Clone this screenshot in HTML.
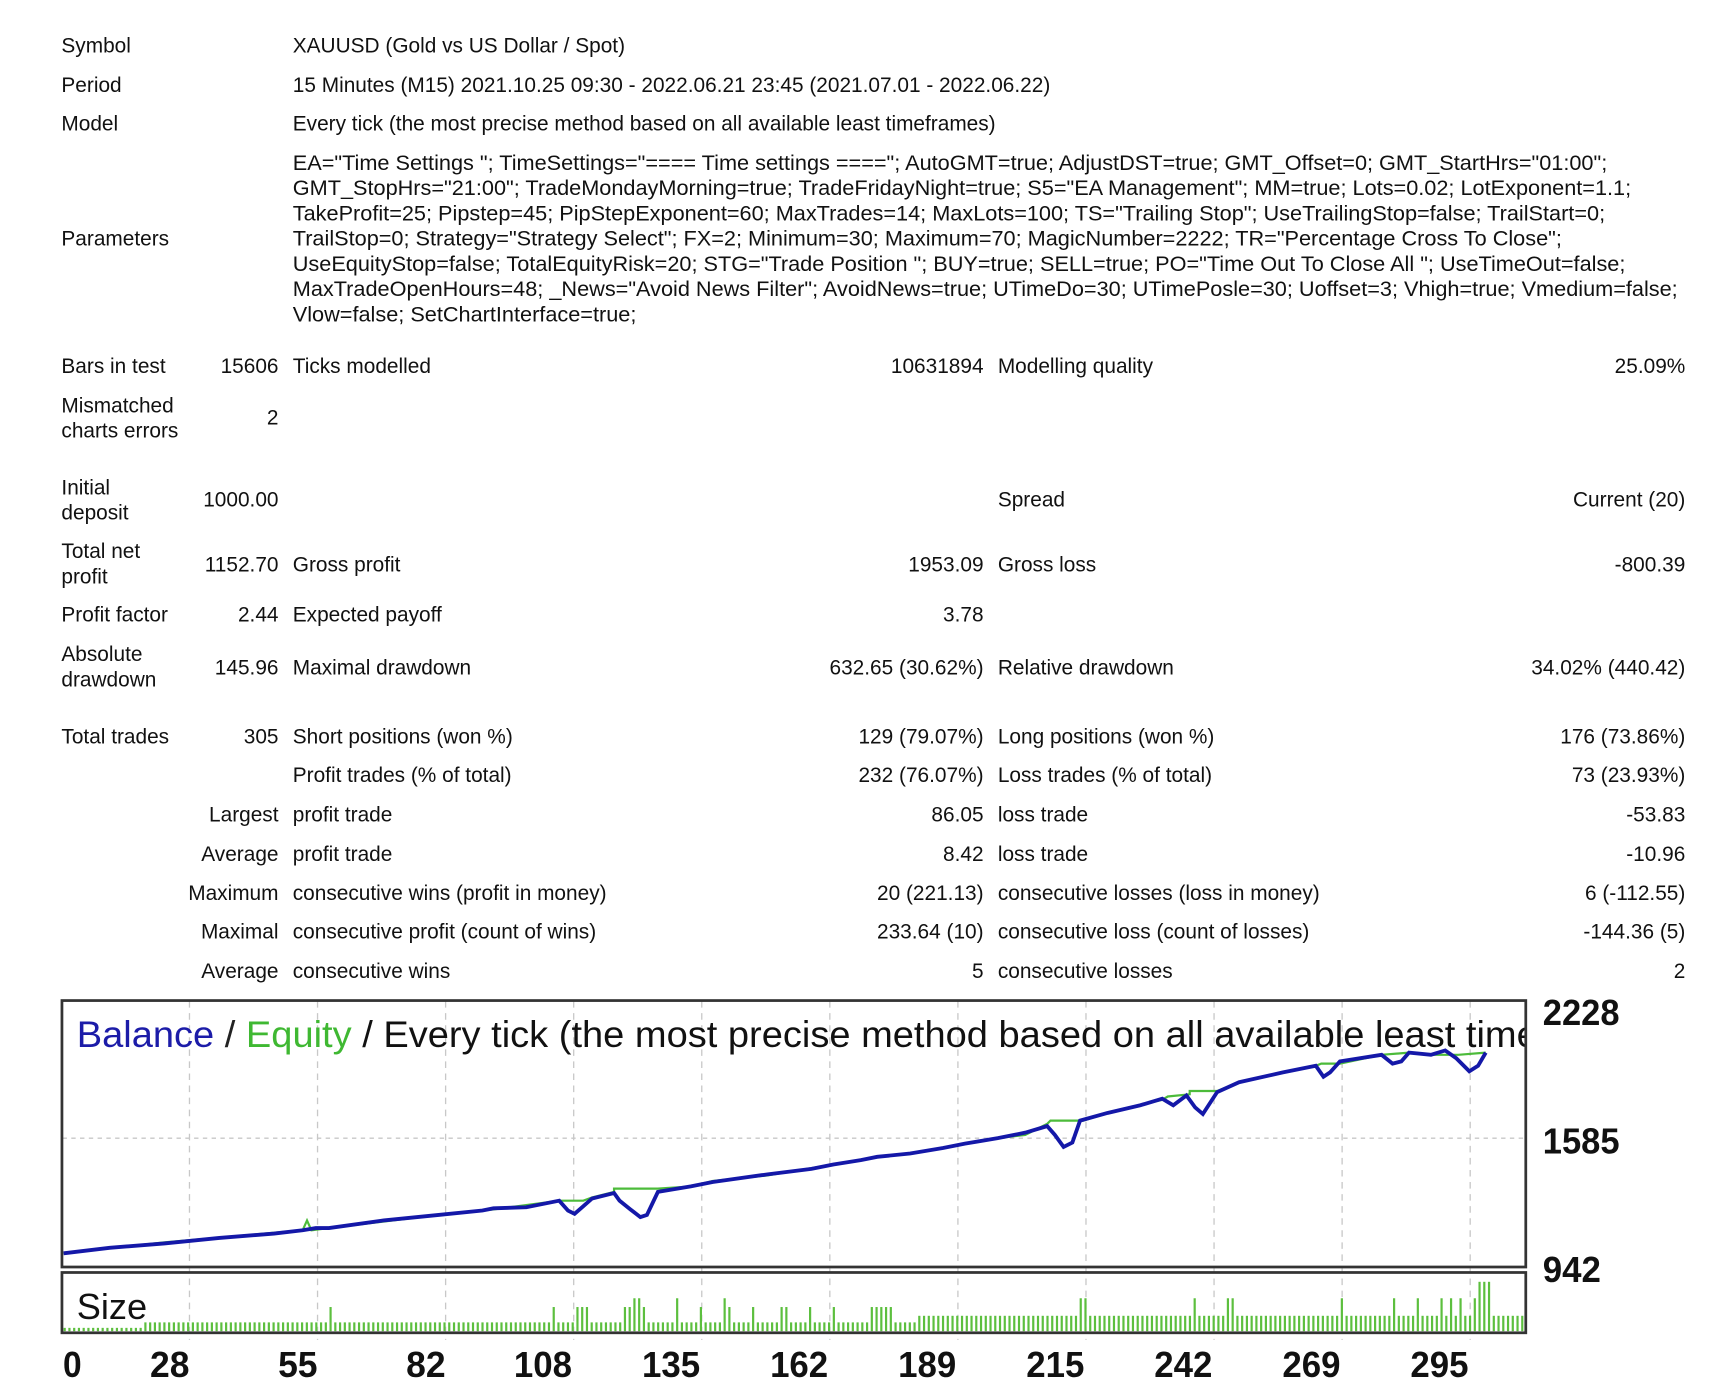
<!DOCTYPE html>
<html><head><meta charset="utf-8">
<style>
html,body{margin:0;padding:0;background:#fff;}
#wrap{position:relative;width:1718px;height:1388px;overflow:hidden;}
#s{position:absolute;left:0;top:0;width:1560px;height:1261px;transform:scale(1.0965);transform-origin:0 0;font-family:"Liberation Sans","DejaVu Sans",sans-serif;font-size:19px;color:#111;}
.t{position:absolute;white-space:nowrap;line-height:23px;}
.r{text-align:right;}
</style></head><body><div id="wrap"><div id="s">
<div class="t" style="left:56px;top:31px">Symbol</div>
<div class="t" style="left:267px;top:31px">XAUUSD (Gold vs US Dollar / Spot)</div>
<div class="t" style="left:56px;top:67px">Period</div>
<div class="t" style="left:267px;top:67px">15 Minutes (M15) 2021.10.25 09:30 - 2022.06.21 23:45 (2021.07.01 - 2022.06.22)</div>
<div class="t" style="left:56px;top:102px">Model</div>
<div class="t" style="left:267px;top:102px">Every tick (the most precise method based on all available least timeframes)</div>
<div class="t" style="left:56px;top:207px">Parameters</div>
<div class="t" style="left:267px;top:138px;font-size:19.8px">EA="Time Settings "; TimeSettings="==== Time settings ===="; AutoGMT=true; AdjustDST=true; GMT_Offset=0; GMT_StartHrs="01:00";<br>GMT_StopHrs="21:00"; TradeMondayMorning=true; TradeFridayNight=true; S5="EA Management"; MM=true; Lots=0.02; LotExponent=1.1;<br>TakeProfit=25; Pipstep=45; PipStepExponent=60; MaxTrades=14; MaxLots=100; TS="Trailing Stop"; UseTrailingStop=false; TrailStart=0;<br>TrailStop=0; Strategy="Strategy Select"; FX=2; Minimum=30; Maximum=70; MagicNumber=2222; TR="Percentage Cross To Close";<br>UseEquityStop=false; TotalEquityRisk=20; STG="Trade Position "; BUY=true; SELL=true; PO="Time Out To Close All "; UseTimeOut=false;<br>MaxTradeOpenHours=48; _News="Avoid News Filter"; AvoidNews=true; UTimeDo=30; UTimePosle=30; Uoffset=3; Vhigh=true; Vmedium=false;<br>Vlow=false; SetChartInterface=true;</div>

<div class="t" style="left:56px;top:323px">Bars in test</div>
<div class="t r" style="right:1306px;top:323px">15606</div>
<div class="t" style="left:267px;top:323px">Ticks modelled</div>
<div class="t r" style="right:663px;top:323px">10631894</div>
<div class="t" style="left:910px;top:323px">Modelling quality</div>
<div class="t r" style="right:23px;top:323px">25.09%</div>

<div class="t" style="left:56px;top:359px">Mismatched<br>charts errors</div>
<div class="t r" style="right:1306px;top:370px">2</div>

<div class="t" style="left:56px;top:434px">Initial<br>deposit</div>
<div class="t r" style="right:1306px;top:445px">1000.00</div>
<div class="t" style="left:910px;top:445px">Spread</div>
<div class="t r" style="right:23px;top:445px">Current (20)</div>

<div class="t" style="left:56px;top:492px">Total net<br>profit</div>
<div class="t r" style="right:1306px;top:504px">1152.70</div>
<div class="t" style="left:267px;top:504px">Gross profit</div>
<div class="t r" style="right:663px;top:504px">1953.09</div>
<div class="t" style="left:910px;top:504px">Gross loss</div>
<div class="t r" style="right:23px;top:504px">-800.39</div>

<div class="t" style="left:56px;top:550px">Profit factor</div>
<div class="t r" style="right:1306px;top:550px">2.44</div>
<div class="t" style="left:267px;top:550px">Expected payoff</div>
<div class="t r" style="right:663px;top:550px">3.78</div>

<div class="t" style="left:56px;top:586px">Absolute<br>drawdown</div>
<div class="t r" style="right:1306px;top:598px">145.96</div>
<div class="t" style="left:267px;top:598px">Maximal drawdown</div>
<div class="t r" style="right:663px;top:598px">632.65 (30.62%)</div>
<div class="t" style="left:910px;top:598px">Relative drawdown</div>
<div class="t r" style="right:23px;top:598px">34.02% (440.42)</div>

<div class="t" style="left:56px;top:661px">Total trades</div>
<div class="t r" style="right:1306px;top:661px">305</div>
<div class="t" style="left:267px;top:661px">Short positions (won %)</div>
<div class="t r" style="right:663px;top:661px">129 (79.07%)</div>
<div class="t" style="left:910px;top:661px">Long positions (won %)</div>
<div class="t r" style="right:23px;top:661px">176 (73.86%)</div>

<div class="t" style="left:267px;top:696px">Profit trades (% of total)</div>
<div class="t r" style="right:663px;top:696px">232 (76.07%)</div>
<div class="t" style="left:910px;top:696px">Loss trades (% of total)</div>
<div class="t r" style="right:23px;top:696px">73 (23.93%)</div>

<div class="t r" style="right:1306px;top:732px">Largest</div>
<div class="t" style="left:267px;top:732px">profit trade</div>
<div class="t r" style="right:663px;top:732px">86.05</div>
<div class="t" style="left:910px;top:732px">loss trade</div>
<div class="t r" style="right:23px;top:732px">-53.83</div>

<div class="t r" style="right:1306px;top:768px">Average</div>
<div class="t" style="left:267px;top:768px">profit trade</div>
<div class="t r" style="right:663px;top:768px">8.42</div>
<div class="t" style="left:910px;top:768px">loss trade</div>
<div class="t r" style="right:23px;top:768px">-10.96</div>

<div class="t r" style="right:1306px;top:804px">Maximum</div>
<div class="t" style="left:267px;top:804px">consecutive wins (profit in money)</div>
<div class="t r" style="right:663px;top:804px">20 (221.13)</div>
<div class="t" style="left:910px;top:804px">consecutive losses (loss in money)</div>
<div class="t r" style="right:23px;top:804px">6 (-112.55)</div>

<div class="t r" style="right:1306px;top:839px">Maximal</div>
<div class="t" style="left:267px;top:839px">consecutive profit (count of wins)</div>
<div class="t r" style="right:663px;top:839px">233.64 (10)</div>
<div class="t" style="left:910px;top:839px">consecutive loss (count of losses)</div>
<div class="t r" style="right:23px;top:839px">-144.36 (5)</div>

<div class="t r" style="right:1306px;top:875px">Average</div>
<div class="t" style="left:267px;top:875px">consecutive wins</div>
<div class="t r" style="right:663px;top:875px">5</div>
<div class="t" style="left:910px;top:875px">consecutive losses</div>
<div class="t r" style="right:23px;top:875px">2</div>

<svg id="ch" style="position:absolute;left:0;top:0" width="1560" height="1261" xmlns="http://www.w3.org/2000/svg">
<defs><clipPath id="cp"><rect x="57" y="913" width="1334" height="242"/></clipPath></defs>
<g id="grid" stroke="#c8c8c8" stroke-width="1.2" stroke-dasharray="6,5"></g>
<line x1="57" y1="1038" x2="1390" y2="1038" stroke="#c8c8c8" stroke-width="1.2" stroke-dasharray="4,4"/>
<g clip-path="url(#cp)">
<text x="70" y="955" font-size="34" font-family="Liberation Sans, sans-serif" textLength="1450" lengthAdjust="spacingAndGlyphs"><tspan fill="#1c1ca8">Balance</tspan><tspan fill="#222"> / </tspan><tspan fill="#3fb832">Equity</tspan><tspan fill="#111"> / Every tick (the most precise method based on all available least timeframes)</tspan></text>
</g>
<polyline fill="none" stroke="#4cbb3a" stroke-width="2" points="58,1143 150,1133 276,1122 280,1113 284,1122 300,1120 400,1108 440,1104 450,1103 510,1095 532,1095 540,1092 560,1087 560,1084 600,1084 630,1082 650,1077 700,1072 760,1062 785,1058 800,1055 830,1052 860,1047 880,1043 910,1038 935,1035 955,1025 958,1022 988,1022 1010,1015 1060,1003 1065,1000 1085,998 1085,995 1110,995 1130,987 1170,978 1200,972 1205,970 1222,970 1260,962 1285,960 1305,962 1330,962 1355,960"/>
<polyline fill="none" stroke="#1418a8" stroke-width="3.5" points="58,1143 100,1138 150,1134 200,1129 250,1125 276,1122 288,1120 300,1120 350,1113 400,1108 440,1104 450,1102 480,1101 510,1095 518,1104 524,1107 532,1100 540,1093 560,1088 565,1095 575,1103 584,1110 590,1108 600,1087 630,1082 650,1078 700,1071 740,1066 760,1062 785,1058 800,1055 830,1052 860,1047 880,1043 910,1038 935,1033 955,1027 962,1035 970,1046 978,1042 985,1022 1010,1015 1040,1008 1060,1002 1070,1008 1082,999 1090,1010 1097,1016 1110,996 1130,987 1170,978 1200,972 1207,982 1213,978 1222,968 1260,962 1270,970 1278,968 1285,960 1305,962 1318,958 1328,965 1340,977 1348,972 1355,960"/>
<g id="bars" fill="#5cbf3e"></g>
<rect x="56.5" y="912.5" width="1335" height="243" fill="none" stroke="#333" stroke-width="2.5"/>
<rect x="56.5" y="1160.5" width="1335" height="55" fill="none" stroke="#333" stroke-width="2.5"/>
<text x="70" y="1203" font-size="33" font-family="Liberation Sans, sans-serif" fill="#111">Size</text>
<g font-family="Liberation Sans, sans-serif" font-weight="bold" font-size="33" fill="#111">
<text x="1407" y="935" textLength="70" lengthAdjust="spacingAndGlyphs">2228</text><text x="1407" y="1052" textLength="70" lengthAdjust="spacingAndGlyphs">1585</text><text x="1407" y="1169" textLength="53" lengthAdjust="spacingAndGlyphs">942</text>
</g>
<g id="xl" font-family="Liberation Sans, sans-serif" font-weight="bold" font-size="33" fill="#111"></g>
</svg>
</div></div>
<script>
var g=document.getElementById('grid'),xl=document.getElementById('xl'),b=document.getElementById('bars'),ns='http://www.w3.org/2000/svg';
var labs=['0','28','55','82','108','135','162','189','215','242','269','295'];
for(var i=0;i<12;i++){var x=56+i*116.8;
 if(i>0){var l=document.createElementNS(ns,'line');l.setAttribute('x1',x);l.setAttribute('x2',x);l.setAttribute('y1',913);l.setAttribute('y2',1222);g.appendChild(l);}
 var t=document.createElementNS(ns,'text');var w=labs[i].length==1?17:(labs[i].length==2?36:53);
 var cx=i==0?66:(labs[i].length==3?x-28:x-18);t.setAttribute('x',cx-w/2);t.setAttribute('y',1256);t.setAttribute('textLength',w);t.setAttribute('lengthAdjust','spacingAndGlyphs');t.textContent=labs[i];xl.appendChild(t);}
var spikes={56:22,103:22,108:22,109:22,110:22,118:22,119:22,120:30,121:30,122:22,129:30,134:22,139:30,140:22,145:22,151:22,152:22,157:22,162:22,170:22,171:22,172:22,173:22,174:22,214:30,215:30,238:30,245:30,246:30,269:30,280:30,285:30,290:30,292:30,294:30,297:30,298:45,299:45,300:45};
for(var k=0;k<308;k++){var x=58+k*4.33;if(x>1388)break;var h=k<17?3:(k<175?8:14);
 if(spikes[k])h=Math.max(h,spikes[k]);if(k>=175&&k<180&&!spikes[k])h=8;
 var r=document.createElementNS(ns,'rect');r.setAttribute('x',x);r.setAttribute('y',1214-h);r.setAttribute('width',2);r.setAttribute('height',h);b.appendChild(r);}
</script>
</body></html>
